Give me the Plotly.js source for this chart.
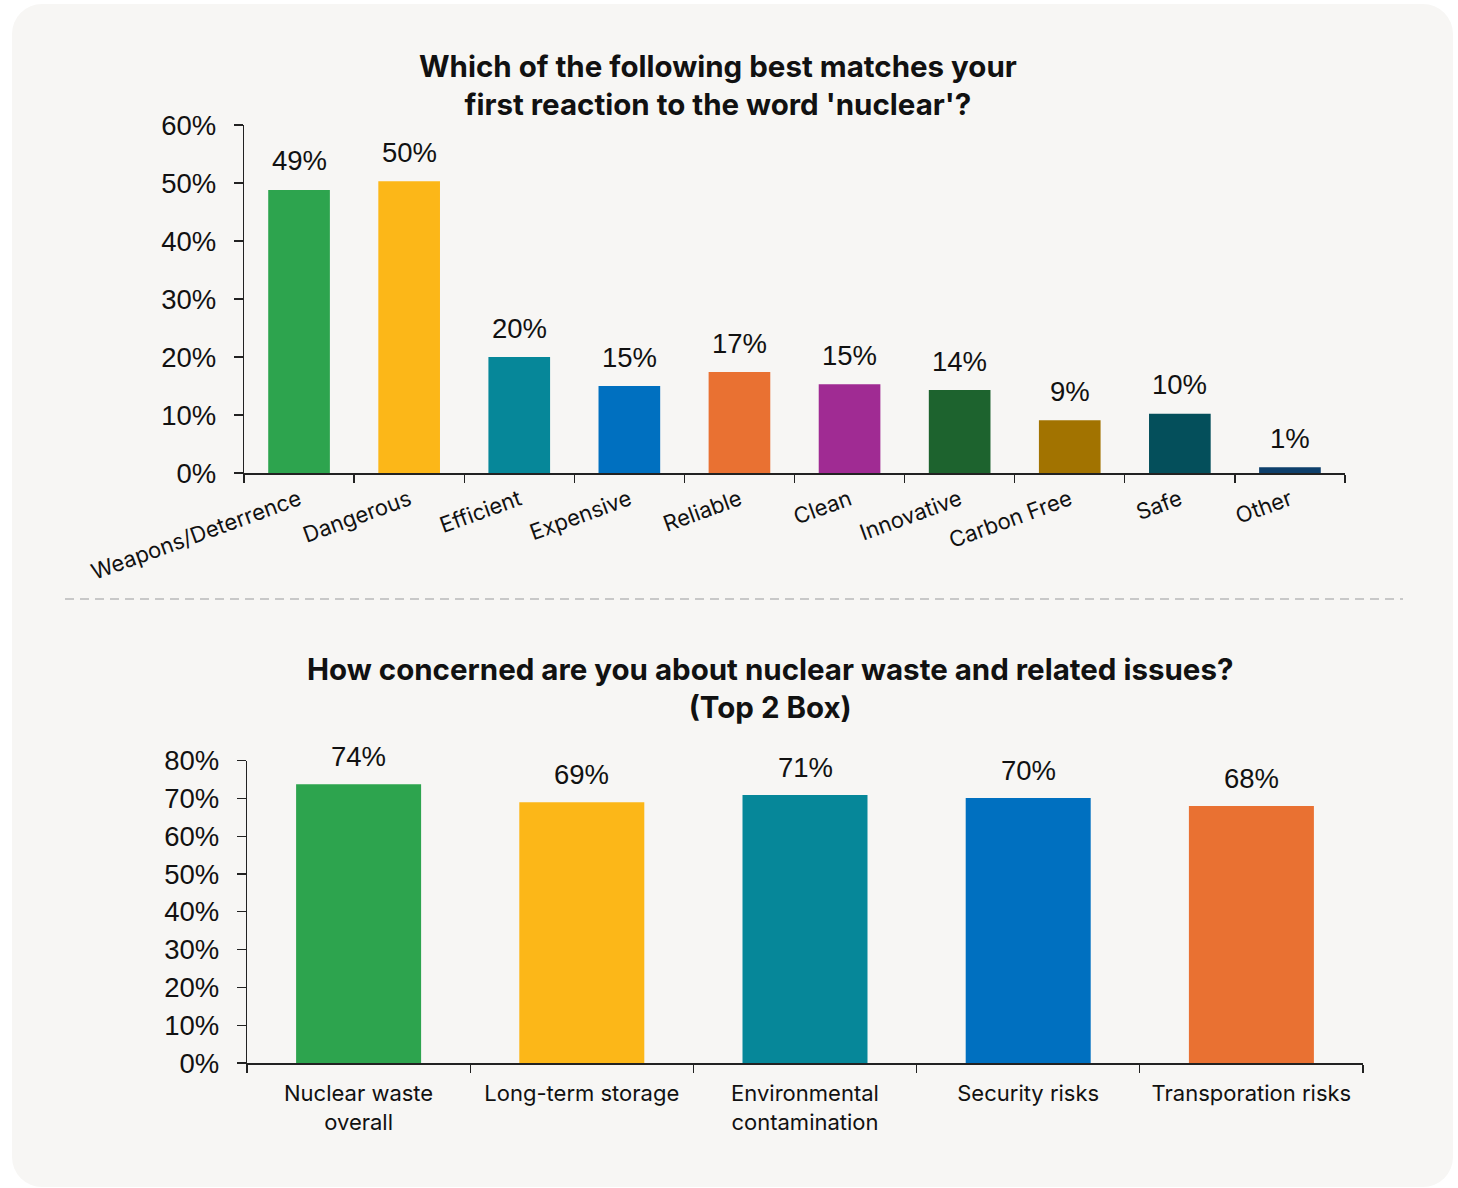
<!DOCTYPE html>
<html>
<head>
<meta charset="utf-8">
<script src="https://cdn.plot.ly/plotly-3.0.1.min.js"></script>
<style>
  html, body { margin: 0; padding: 0; background: #ffffff; }
  #bg { position: absolute; left: 12px; top: 4px; width: 1441px; height: 1183px; border-radius: 30px; background: #f7f6f4; }
  #chart { position: absolute; left: 0; top: 0; width: 1458px; height: 1188px; }
</style>
</head>
<body>
<div id="bg"></div>
<div id="chart"></div>
<script>
// ---- Data ----
const reactionCategories = ["Weapons/Deterrence", "Dangerous", "Efficient", "Expensive", "Reliable", "Clean", "Innovative", "Carbon Free", "Safe", "Other"];
const reactionValues = [48.8, 50.3, 20.0, 15.0, 17.4, 15.3, 14.3, 9.1, 10.2, 1.0];
const reactionColors = ["#2da44e", "#fcb718", "#068799", "#0070c0", "#e97132", "#a02b93", "#1d632e", "#a27300", "#044f5b", "#0e3f6b"];

const concernCategories = ["Nuclear waste<br>overall", "Long-term storage", "Environmental<br>contamination", "Security risks", "Transporation risks"];
const concernValues = [73.8, 69.0, 70.9, 70.1, 68.0];
const concernColors = ["#2da44e", "#fcb718", "#068799", "#0070c0", "#e97132"];

const topTitle = "Which of the following best matches your<br>first reaction to the word 'nuclear'?";
const bottomTitle = "How concerned are you about nuclear waste and related issues?<br>(Top 2 Box)";

// ---- Styling ----
const W = 1458, H = 1188;
const numFont = "Liberation Sans, Arial, sans-serif";
const catFont = "Inter, Noto Sans, sans-serif";
const axisColor = "#222222";

const traces = [
  { type: "bar", x: reactionCategories, y: reactionValues, marker: { color: reactionColors }, width: 0.56, xaxis: "x", yaxis: "y", hoverinfo: "skip" },
  { type: "bar", x: concernCategories, y: concernValues, marker: { color: concernColors }, width: 0.56, xaxis: "x2", yaxis: "y2", hoverinfo: "skip" }
];

const annotations = [];
reactionCategories.forEach((c, i) => annotations.push({
  x: c, y: reactionValues[i], xref: "x", yref: "y", text: Math.round(reactionValues[i]) + "%",
  showarrow: false, yanchor: "middle", yshift: 29, font: { family: numFont, size: 27.5, color: "#111" }
}));
concernCategories.forEach((c, i) => annotations.push({
  x: c, y: concernValues[i], xref: "x2", yref: "y2", text: Math.round(concernValues[i]) + "%",
  showarrow: false, yanchor: "middle", yshift: 28, font: { family: numFont, size: 27.5, color: "#111" }
}));
annotations.push({
  x: 718 / W, y: 1 - 84.5 / H, xref: "paper", yref: "paper", text: "<b>" + topTitle + "</b>",
  showarrow: false, xanchor: "center", yanchor: "middle", font: { family: catFont, size: 29.5, color: "#111" }
});
annotations.push({
  x: 769.5 / W, y: 1 - 688 / H, xref: "paper", yref: "paper", text: "<b>" + bottomTitle + "</b>",
  showarrow: false, xanchor: "center", yanchor: "middle", font: { family: catFont, size: 29.5, color: "#111" }
});

const yAxisCommon = {
  showgrid: false, zeroline: false, showline: true, linecolor: axisColor, linewidth: 1.3,
  ticks: "outside", ticklen: 9, tickwidth: 1.3, tickcolor: axisColor, ticksuffix: "%",
  tickfont: { family: numFont, size: 27.5, color: "#111" }, ticklabelstandoff: 12, fixedrange: true
};
const xAxisCommon = {
  showgrid: false, zeroline: false, showline: true, linecolor: axisColor, linewidth: 1.5,
  ticks: "outside", ticklen: 8, tickwidth: 1.3, tickcolor: axisColor, tickson: "boundaries",
  tickfont: { family: catFont, size: 22, color: "#111" }, fixedrange: true
};

const layout = {
  width: W, height: H,
  margin: { l: 0, r: 0, t: 0, b: 0 },
  paper_bgcolor: "rgba(0,0,0,0)", plot_bgcolor: "rgba(0,0,0,0)",
  showlegend: false, bargap: 0.44,
  xaxis: Object.assign({}, xAxisCommon, { domain: [244 / W, 1345 / W], anchor: "y", tickangle: -20, ticklabelstandoff: 4 }),
  yaxis: Object.assign({}, yAxisCommon, { domain: [1 - 473 / H, 1 - 125 / H], anchor: "x", range: [0, 60], dtick: 10 }),
  xaxis2: Object.assign({}, xAxisCommon, { domain: [247 / W, 1363 / W], anchor: "y2", tickangle: 0, ticklabelstandoff: 10 }),
  yaxis2: Object.assign({}, yAxisCommon, { domain: [1 - 1063 / H, 1 - 760.7 / H], anchor: "x2", range: [0, 80], dtick: 10 }),
  annotations: annotations,
  shapes: [{
    type: "line", xref: "paper", yref: "paper", x0: 65 / W, x1: 1403 / W, y0: 1 - 599 / H, y1: 1 - 599 / H,
    line: { color: "#c8c8c8", width: 2, dash: "9px,6px" }
  }],
  font: { family: catFont, color: "#111" }
};

Plotly.newPlot("chart", traces, layout, { displayModeBar: false, staticPlot: true });
</script>
</body>
</html>
